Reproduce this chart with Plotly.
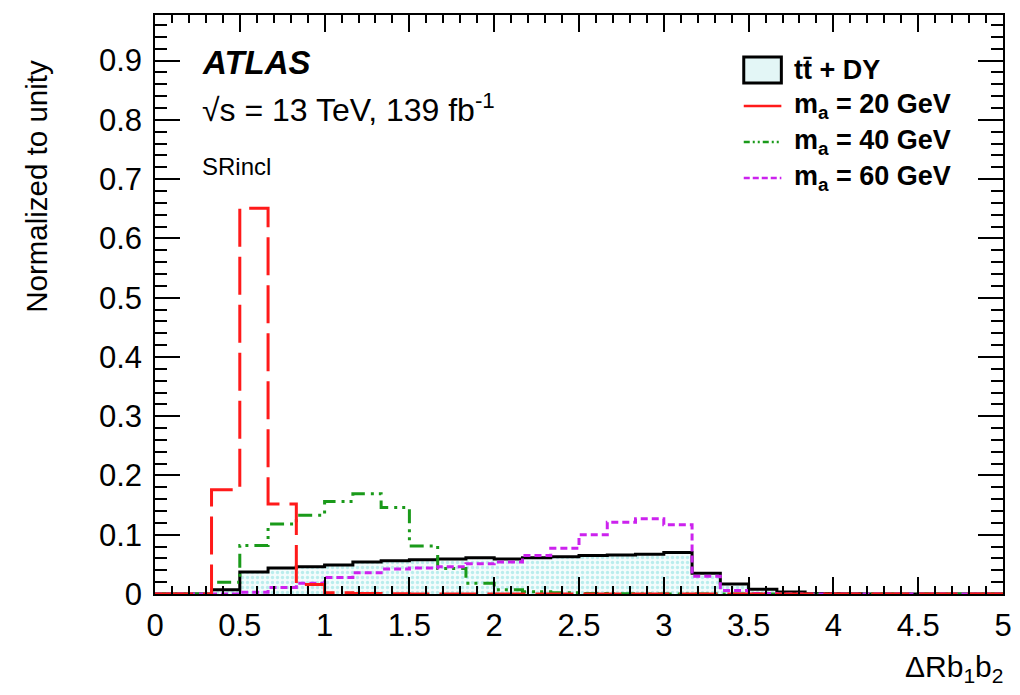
import numpy as np
import plotly.graph_objects as go

# ---------------- data (30 bins of width 1/6 between 0 and 5) ----------------
x_min, x_max, n_bins = 0.0, 5.0, 30
bkg_ttbar_dy = [0, 0, 0.007, 0.037, 0.044, 0.046, 0.049, 0.054, 0.056, 0.058,
                0.059, 0.061, 0.059, 0.061, 0.063, 0.065, 0.066, 0.067, 0.070, 0.035,
                0.017, 0.008, 0.0035, 0.001, 0.0005, 0.0002, 0, 0, 0, 0]
sig_ma20 = [0, 0, 0.176, 0.651, 0.152, 0.016, 0.002, 0.001, 0.0005, 0,
            0, 0, 0, 0, 0, 0, 0, 0, 0, 0,
            0, 0, 0, 0, 0, 0, 0, 0, 0, 0]
sig_ma40 = [0, 0, 0.020, 0.082, 0.118, 0.133, 0.156, 0.169, 0.146, 0.081,
            0.043, 0.018, 0.007, 0.004, 0.002, 0.001, 0.0005, 0, 0, 0,
            0, 0, 0, 0, 0, 0, 0, 0, 0, 0]
sig_ma60 = [0, 0, 0, 0.003, 0.011, 0.018, 0.028, 0.036, 0.042, 0.044,
            0.046, 0.051, 0.054, 0.065, 0.077, 0.100, 0.121, 0.127, 0.117, 0.030,
            0.006, 0.001, 0, 0, 0, 0, 0, 0, 0, 0]

legend_labels = ["tt\u0304 + DY", "m<sub>a</sub> = 20 GeV",
                 "m<sub>a</sub> = 40 GeV", "m<sub>a</sub> = 60 GeV"]
y_ticks = [0, 0.1, 0.2, 0.3, 0.4, 0.5, 0.6, 0.7, 0.8, 0.9]
x_ticks = [0, 0.5, 1, 1.5, 2, 2.5, 3, 3.5, 4, 4.5, 5]

FONT = "Liberation Sans, Arial, Helvetica, sans-serif"

edges = np.linspace(x_min, x_max, n_bins + 1)


def step(vals):
    return list(edges), list(vals) + [vals[-1]]


fig = go.Figure()

# background: filled histogram
bx, by = step(bkg_ttbar_dy)
fig.add_trace(go.Scatter(
    x=bx, y=by, mode="lines", line_shape="hv",
    line=dict(color="black", width=3),
    fill="tozeroy",
    fillpattern=dict(shape=".", fgcolor="#7fdede", bgcolor="#f4fcfc",
                     size=5, solidity=0.35),
    hoverinfo="skip", showlegend=False, cliponaxis=False))

styles = [
    (sig_ma40, "#1a9a1a", "14px,6px,3px,5px,3px,6px"),
    (sig_ma60, "#cc22ee", "7px,4px"),
    (sig_ma20, "#ff1a1a", "38px,10px"),
]
for vals, col, dash in styles:
    sx, sy = step(vals)
    fig.add_trace(go.Scatter(
        x=sx, y=sy, mode="lines", line_shape="hv",
        line=dict(color=col, width=3, dash=dash),
        hoverinfo="skip", showlegend=False, cliponaxis=False))

# ---------------- layout ----------------
L, R, T, B = 155, 8, 15, 101
W, H = 1020, 695
pw, ph = W - L - R, H - T - B


def px_x(p):
    return (p - L) / pw


def px_y(p):
    return (H - B - p) / ph


axis_common = dict(
    showline=True, linecolor="black", linewidth=1.5, mirror="allticks",
    ticks="inside", tickcolor="black", tickwidth=1.5,
    showgrid=False, zeroline=False,
    tickfont=dict(family=FONT, size=31, color="black"),
)
fig.update_xaxes(range=[x_min, x_max], tickvals=x_ticks, ticklen=17,
                 minor=dict(dtick=0.1, ticklen=8, ticks="inside", tickcolor="black",
                            tickwidth=1.5),
                 ticklabelstandoff=3, **axis_common)
fig.update_yaxes(range=[0, 0.977], tickvals=y_ticks, ticklen=25,
                 minor=dict(dtick=0.02, ticklen=12, ticks="inside", tickcolor="black",
                            tickwidth=1.5),
                 ticklabelstandoff=5, **axis_common)

ann = []
ann.append(dict(text="Normalized to unity", xref="paper", yref="paper",
                x=px_x(35), y=px_y(58), xanchor="center", yanchor="top",
                textangle=-90, showarrow=False,
                font=dict(family=FONT, size=29.5, color="black")))
ann.append(dict(text="\u0394Rb<sub>1</sub>b<sub>2</sub>", xref="paper", yref="paper",
                x=px_x(1014), y=px_y(668), xanchor="right", yanchor="middle",
                showarrow=False, font=dict(family=FONT, size=30, color="black")))
ann.append(dict(text="<b><i>ATLAS</i></b>", xref="paper", yref="paper",
                x=px_x(200), y=px_y(63), xanchor="left", yanchor="middle",
                showarrow=False, font=dict(family=FONT, size=33, color="black")))
ann.append(dict(text="\u221as = 13 TeV, 139 fb<sup>-1</sup>", xref="paper", yref="paper",
                x=px_x(200), y=px_y(108), xanchor="left", yanchor="middle",
                showarrow=False, font=dict(family=FONT, size=32, color="black")))
ann.append(dict(text="SRincl", xref="paper", yref="paper",
                x=px_x(200), y=px_y(166), xanchor="left", yanchor="middle",
                showarrow=False, font=dict(family=FONT, size=24, color="black")))

# legend (manual)
leg_y = [70, 106, 142, 178]
for lbl, yy in zip(legend_labels, leg_y):
    ann.append(dict(text="<b>" + lbl + "</b>", xref="paper", yref="paper",
                    x=px_x(799), y=px_y(yy), xanchor="left", yanchor="middle",
                    showarrow=False, font=dict(family=FONT, size=27, color="black")))

shapes = []
shapes.append(dict(type="rect", xref="paper", yref="paper",
                   x0=px_x(750), x1=px_x(788), y0=px_y(57), y1=px_y(83),
                   line=dict(color="black", width=3), fillcolor="#e3f6f6"))
leg_lines = [(106, "#ff1a1a", "solid"), (142, "#1a9a1a", "6px,3px,2px,3px,2px,3px"),
             (178, "#cc22ee", "6px,3px")]
for yy, col, dash in leg_lines:
    shapes.append(dict(type="line", xref="paper", yref="paper",
                       x0=px_x(750), x1=px_x(788), y0=px_y(yy), y1=px_y(yy),
                       line=dict(color=col, width=2.5, dash=dash)))

fig.update_layout(
    width=W, height=H, autosize=False,
    margin=dict(l=L, r=R, t=T, b=B),
    paper_bgcolor="white", plot_bgcolor="white",
    annotations=ann, shapes=shapes, showlegend=False,
)

fig.write_html("out.html", config={"displayModeBar": False})
